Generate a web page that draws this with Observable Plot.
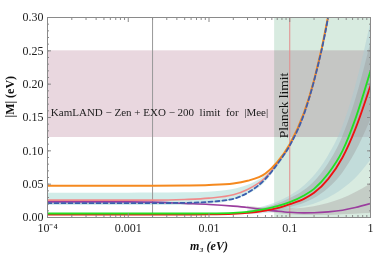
<!DOCTYPE html>
<html><head><meta charset="utf-8">
<script src="https://cdn.jsdelivr.net/npm/d3@7"></script>
<script src="https://cdn.jsdelivr.net/npm/@observablehq/plot@0.6"></script>
<style>body{margin:0;background:#fff}</style>
</head><body><div id="chart"></div>
<script>
// lightest mass m3 (eV)
const m3 = [1e-4, 3e-4, 1e-3, 2e-3, 5e-3, 0.01, 0.02, 0.03, 0.05, 0.07, 0.1, 0.15, 0.2, 0.3, 0.45, 0.65, 1];
const orangeM = [0.0475, 0.0475, 0.0475, 0.0476, 0.048, 0.0488, 0.051, 0.055, 0.066, 0.083, 0.11, 0.157, 0.206, 0.303, 0.45, 0.65, 1.0];
const blueM   = [0.0215, 0.0215, 0.0215, 0.0216, 0.022, 0.0235, 0.028, 0.037, 0.058, 0.080, 0.108, 0.155, 0.205, 0.302, 0.45, 0.65, 1.0];
const salmonM = [0.026, 0.026, 0.026, 0.026, 0.027, 0.029, 0.034, 0.042, 0.060, 0.081, 0.108, 0.155, 0.205, 0.302, 0.45, 0.65, 1.0];
const tealLo  = [0.018, 0.018, 0.018, 0.018, 0.0185, 0.020, 0.026, 0.034, 0.053, 0.075, 0.104, 0.151, 0.201, 0.30, 0.45, 0.65, 1.0];
const tealHi  = [0.0365, 0.0365, 0.0365, 0.0366, 0.037, 0.038, 0.042, 0.048, 0.063, 0.082, 0.110, 0.157, 0.206, 0.303, 0.45, 0.65, 1.0];
const greenM  = [0.006, 0.006, 0.006, 0.006, 0.006, 0.0062, 0.007, 0.0085, 0.013, 0.017, 0.023, 0.033, 0.043, 0.066, 0.100, 0.148, 0.220];
const redM    = [0.0045, 0.0045, 0.0045, 0.0045, 0.0045, 0.0047, 0.0055, 0.0068, 0.0105, 0.014, 0.020, 0.028, 0.037, 0.058, 0.090, 0.133, 0.198];
const purpleM = [0.0235, 0.0235, 0.0234, 0.023, 0.021, 0.0195, 0.017, 0.015, 0.0115, 0.0095, 0.0078, 0.007, 0.0072, 0.0085, 0.011, 0.015, 0.021];

// shaded ranges at large m3
const m3Hi    = [0.03, 0.05, 0.07, 0.1, 0.15, 0.2, 0.3, 0.45, 0.65, 1];
const outerLo = [0.004, 0.006, 0.008, 0.011, 0.016, 0.020, 0.029, 0.042, 0.058, 0.085];
const outerHi = [0.011, 0.017, 0.023, 0.032, 0.047, 0.062, 0.092, 0.135, 0.195, 0.29];
const innerLo = [0.005, 0.008, 0.011, 0.015, 0.021, 0.028, 0.043, 0.066, 0.097, 0.145];
const innerHi = [0.0095, 0.015, 0.020, 0.028, 0.040, 0.053, 0.080, 0.120, 0.175, 0.26];
const purpLo  = [0.013, 0.009, 0.006, 0.004, 0.003, 0.003, 0.003, 0.004, 0.005, 0.006];
const purpHi  = [0.017, 0.014, 0.013, 0.013, 0.014, 0.016, 0.021, 0.028, 0.037, 0.050];

// limits
const kamlandLimit = [0.12, 0.25];
const planckM3 = 0.065;
const vLines = [0.002];
const vLinePlanck = [0.1];

const xTicks = [1e-4, 1e-3, 1e-2, 0.1, 1];
const xTickLabels = ["10\u207B\u2074", "0.001", "0.01", "0.1", "1"];
const yTicks = [0, 0.05, 0.10, 0.15, 0.20, 0.25, 0.30];
const yTickLabels = ["0.00", "0.05", "0.10", "0.15", "0.20", "0.25", "0.30"];

const rows = m3.map((m, i) => ({m, orange: orangeM[i], blue: blueM[i], salmon: salmonM[i], tLo: tealLo[i], tHi: tealHi[i], green: greenM[i], red: redM[i], purple: purpleM[i]}));
const hi = m3Hi.map((m, i) => ({m, oLo: outerLo[i], oHi: outerHi[i], iLo: innerLo[i], iHi: innerHi[i], pLo: purpLo[i], pHi: purpHi[i]}));

const xMinor = [];
for (let e = -4; e < 0; e++) for (let k = 2; k <= 9; k++) xMinor.push(k * Math.pow(10, e));
const yMinor = d3.range(0, 31).map(i => i / 100);

const font = "Liberation Serif";
const gridColor = "#8a8a8a";
const curve = "monotone-x";

const chart = Plot.plot({
  width: 374, height: 255,
  marginLeft: 47, marginRight: 4, marginTop: 17, marginBottom: 38,
  style: {fontFamily: font, fontSize: "12px", background: "#fff", color: "#222"},
  x: {type: "log", domain: [1e-4, 1]},
  y: {domain: [0, 0.3]},
  marks: [
    Plot.rect([kamlandLimit], {x1: 1e-4, x2: 1, y1: d => d[0], y2: d => d[1], fill: "#e9d7df", mixBlendMode: "multiply"}),
    Plot.rect([planckM3], {x1: d => d, x2: 1, y1: 0, y2: 0.3, fill: "#d8ebe0", mixBlendMode: "multiply"}),
    // shaded bands
    Plot.areaY(hi, {x: "m", y1: "oLo", y2: "oHi", fill: "#a9c9d3", fillOpacity: 0.45, curve, clip: true}),
    Plot.areaY(hi, {x: "m", y1: "iLo", y2: "iHi", fill: "#9a9a9a", fillOpacity: 0.4, curve, clip: true}),
    Plot.areaY(hi, {x: "m", y1: "pLo", y2: "pHi", fill: "#a8a0a0", fillOpacity: 0.4, curve, clip: true}),
    Plot.areaY(rows, {x: "m", y1: "tLo", y2: "tHi", fill: "#a3dad3", fillOpacity: 0.5, curve, clip: true}),
    // vertical lines
    Plot.ruleX(vLines, {stroke: "#999", strokeWidth: 1}),
    Plot.ruleX(vLinePlanck, {stroke: "#e38c8c", strokeWidth: 1}),
    // curves
    Plot.line(rows, {x: "m", y: "purple", stroke: "#9b3d9e", strokeWidth: 1.6, curve, clip: true}),
    Plot.line(rows, {x: "m", y: "salmon", stroke: "#f08a8a", strokeWidth: 1.6, curve, clip: true}),
    Plot.line(rows, {x: "m", y: "orange", stroke: "#f5891f", strokeWidth: 2, curve, clip: true}),
    Plot.line(rows, {x: "m", y: "blue", stroke: "#3c5fae", strokeWidth: 1.8, strokeDasharray: "4,3", curve, clip: true}),
    Plot.line(rows, {x: "m", y: "red", stroke: "#ee1111", strokeWidth: 1.8, curve, clip: true}),
    Plot.line(rows, {x: "m", y: "green", stroke: "#22e022", strokeWidth: 1.8, curve, clip: true}),
    // annotations
    Plot.text(["KamLAND \u2212 Zen + EXO \u2212 200  limit  for  |Mee|"], {x: 1.1e-4, y: 0.158, text: d => d, textAnchor: "start", fontSize: 11, fill: "#222", fontFamily: font}),
    Plot.text(["Planck limit"], {x: 0.0837, y: 0.168, text: d => d, rotate: -90, fontSize: 13.5, fill: "#111", fontFamily: font}),
    // axes
    Plot.axisX({ticks: xTicks, tickFormat: d => xTickLabels[xTicks.indexOf(d)], tickSize: -4, tickPadding: 10, stroke: gridColor, label: null, fontSize: 12}),
    Plot.axisX({ticks: xMinor, tickFormat: () => "", tickSize: -2, stroke: gridColor, label: null}),
    Plot.axisX({anchor: "top", ticks: xTicks, tickFormat: () => "", tickSize: -4, stroke: gridColor, label: null}),
    Plot.axisX({anchor: "top", ticks: xMinor, tickFormat: () => "", tickSize: -2, stroke: gridColor, label: null}),
    Plot.axisY({ticks: yTicks, tickFormat: d => yTickLabels[yTicks.findIndex(t => Math.abs(t - d) < 1e-9)], tickSize: -4, tickPadding: 8, stroke: gridColor, label: null, fontSize: 12}),
    Plot.axisY({ticks: yMinor, tickFormat: () => "", tickSize: -2, stroke: gridColor, label: null}),
    Plot.axisY({anchor: "right", ticks: yTicks, tickFormat: () => "", tickSize: -4, stroke: gridColor, label: null}),
    Plot.axisY({anchor: "right", ticks: yMinor, tickFormat: () => "", tickSize: -2, stroke: gridColor, label: null}),
    Plot.frame({stroke: gridColor}),
    Plot.text(["m\u2083 (eV)"], {frameAnchor: "bottom", dy: 32, text: d => d, fontWeight: "bold", fontStyle: "italic", fontSize: 12, fill: "#111", fontFamily: font}),
    Plot.text(["|M| (eV)"], {frameAnchor: "left", dx: -37, rotate: -90, text: d => d, fontWeight: "bold", fontSize: 12, fill: "#111", fontFamily: font})
  ]
});
document.getElementById("chart").append(chart);
</script>
</body></html>
